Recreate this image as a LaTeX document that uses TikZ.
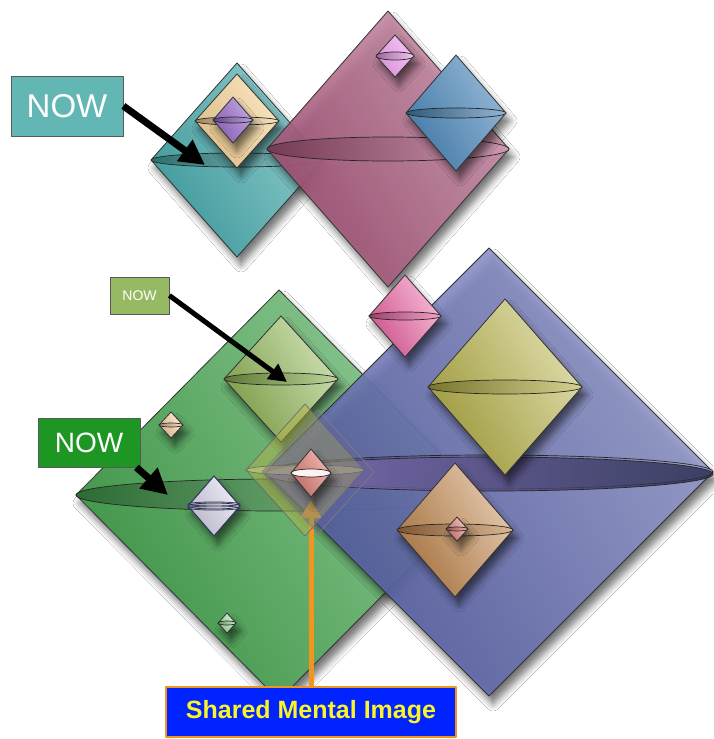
\documentclass[tikz,border=0pt]{standalone}
\usepackage{fontspec}
\setmainfont{Liberation Sans}
\usetikzlibrary{arrows.meta, positioning, shadows.blur}
\definecolor{coneteal}{RGB}{70,170,172}
\definecolor{conebeige}{RGB}{245,210,150}
\definecolor{conepurple}{RGB}{150,105,200}
\definecolor{conemagenta}{RGB}{175,85,125}
\definecolor{conelilac}{RGB}{240,160,240}
\definecolor{conesteel}{RGB}{75,135,185}
\definecolor{conegreen}{RGB}{70,165,80}
\definecolor{coneblue}{RGB}{90,100,180}
\definecolor{coneolive}{RGB}{185,180,70}
\definecolor{conehotpink}{RGB}{240,100,165}
\definecolor{conelime}{RGB}{145,185,85}
\definecolor{conepeach}{RGB}{250,210,160}
\definecolor{conelavender}{RGB}{215,215,235}
\definecolor{conemint}{RGB}{160,225,160}
\definecolor{conetan}{RGB}{195,135,75}
\definecolor{conesalmon}{RGB}{225,125,115}
\definecolor{nowteal}{RGB}{98,182,180}
\definecolor{nowlime}{RGB}{150,185,100}
\definecolor{nowgreen}{RGB}{30,150,35}
\definecolor{mentalblue}{RGB}{0,35,255}
\definecolor{mentalorange}{RGB}{240,150,30}
\definecolor{mentalyellow}{RGB}{250,245,40}
\tikzset{conebody/.style={draw=black!80, line width=0.8pt, blur shadow={shadow xshift=4pt, shadow yshift=-8pt, shadow blur radius=7pt, shadow opacity=55}},
coneslice/.style={draw=black!85, line width=0.7pt}}

\begin{document}
\begin{tikzpicture}[
        x=1pt, y=-1pt,
        line join=round,
        nowbox/.style={draw=black!65, line width=0.8pt, text=white, inner sep=0pt},
        nowarrow/.style={black, -{Triangle[length=#1, width=#1]}},
        mentalbox/.style={draw=mentalorange, line width=2.5pt, fill=mentalblue, text=mentalyellow, inner sep=0pt,
            minimum width=290pt, minimum height=50pt, font=\bfseries\fontsize{25}{25}\selectfont}
    ]
        % Canvas
        \fill[white] (0,0) rectangle (713,739);
        \useasboundingbox (0,0) rectangle (713,739);
        % Big cones
        \foreach \cx/\cy/\rx/\ry/\ey/\col/\op in {
            237/160/86/97/7/coneteal/1,
            237/121/42/47/4/conebeige/1,
            233/120/20/23/3/conepurple/1,
            388/149/121/138/12/conemagenta/0.9,
            395/56/19/21/4/conelilac/1,
            456/113/50/58/5/conesteel/1,
            279/495/203/205/16/conegreen/1,
            489/472/224/224/17/coneblue/0.88} {
            \path[conebody, fill opacity=\op, left color=\col!90!black, right color=\col!60!white, shading angle=120]
                ({\cx-\rx},\cy) -- (\cx,{\cy-\ry}) -- ({\cx+\rx},\cy) -- (\cx,{\cy+\ry}) -- cycle;
            \path[coneslice, fill opacity=\op, left color=\col!65!black, right color=\col!60!white]
                (\cx,\cy) ellipse [x radius=\rx pt, y radius=\ey pt];
        }
        \path[coneslice, fill opacity=0.8, left color=coneblue!70!white!80!violet, right color=coneblue!40!black]
            (489,474) ellipse [x radius=224pt, y radius=17pt];
        % Small cones
        \foreach \cx/\cy/\rx/\ry/\ey/\col in {
            405/316/36/41/4/conehotpink,
            505/387/77/88/7/coneolive,
            281/379/57/63/6/conelime,
            171/425/12/13/2/conepeach,
            214/506/26/30/3/conelavender,
            227/623/9/10/2/conemint,
            455/530/58/67/6/conetan,
            457/529/11/12/2/conesalmon} {
            \path[conebody, left color=\col!85!black, right color=\col!45!white, shading angle=120]
                ({\cx-\rx},\cy) -- (\cx,{\cy-\ry}) -- ({\cx+\rx},\cy) -- (\cx,{\cy+\ry}) -- cycle;
            \path[coneslice, left color=\col!65!black, right color=\col!60!white]
                (\cx,\cy) ellipse [x radius=\rx pt, y radius=\ey pt];
        }
        \draw[draw=coneblue!60!black, line width=0.8pt] (188,506) -- (214,476) -- (240,506) -- (214,536) -- cycle
            (214,504) ellipse [x radius=26pt, y radius=2pt] (214,508) ellipse [x radius=26pt, y radius=2pt];
        % Shared mental image
        \node[mentalbox] (mental) at (311,712) {Shared Mental Image};
        \coordinate (tipshared) at (311,500);
        \draw[mentalorange, line width=5pt, -{Triangle[length=18pt, width=20pt]}] (mental.north) -- (tipshared);
        \path[draw=black!60, line width=0.6pt, fill=coneolive, fill opacity=0.45]
            (246,470) -- (305,404) -- (364,470) -- (305,536) -- cycle;
        \path[draw=black!60, line width=0.6pt, fill=coneolive!70!white, fill opacity=0.5]
            (305,470) ellipse [x radius=59pt, y radius=5pt];
        \path[draw=black!50, line width=0.6pt, fill=gray!80!blue, fill opacity=0.3]
            (262,472) -- (318,410) -- (374,472) -- (318,534) -- cycle;
        \path[conebody, left color=conesalmon!85!black, right color=conesalmon!55!white, shading angle=120]
            (291,473) -- (311,449) -- (331,473) -- (311,497) -- cycle;
        \path[coneslice, fill=white!90!conesalmon] (311,473) ellipse [x radius=20pt, y radius=4pt];
        % Labels
        \node[nowbox, fill=nowteal, minimum width=112pt, minimum height=60pt, font=\fontsize{33}{33}\selectfont] (nowtop) at (67,106) {NOW};
        \node[nowbox, fill=nowlime, minimum width=59pt, minimum height=37pt, font=\fontsize{14}{14}\selectfont] (nowmid) at (139.5,295.5) {NOW};
        \node[nowbox, fill=nowgreen, minimum width=102pt, minimum height=49pt, font=\fontsize{28}{28}\selectfont] (nowlow) at (89,442.5) {NOW};
        % Arrows
        \coordinate (tiptop) at (205,165);
        \coordinate (tipmid) at (287,382);
        \coordinate (tiplow) at (168,495);
        \draw[nowarrow=25pt, line width=7pt] (nowtop.east) -- (tiptop);
        \draw[nowarrow=18pt, line width=5pt] (nowmid.east) -- (tipmid);
        \draw[nowarrow=26pt, line width=7pt] ([xshift=-4pt]nowlow.south east) -- (tiplow);
    \end{tikzpicture}
\end{document}
